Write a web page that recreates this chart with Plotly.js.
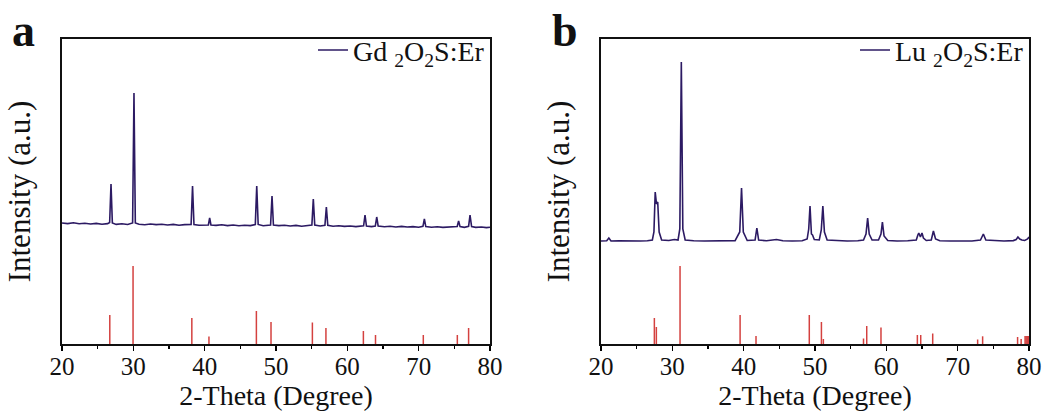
<!DOCTYPE html>
<html><head><meta charset="utf-8">
<script src="https://cdn.plot.ly/plotly-3.0.1.min.js"></script>
<style>html,body{margin:0;padding:0;background:#fff}#chart{width:1049px;height:412px}</style>
</head><body><div id="chart"></div>
<script>
// Panel a: Gd2O2S:Er measured pattern (2-theta, intensity a.u.)
const aTheta = [20,20.8,21.6,22.4,23.2,24.0,24.8,25.6,26.4,26.68,26.87,27.06,27.6,28.4,29.2,29.9,30.09,30.28,30.8,31.6,32.4,33.2,34.0,34.8,35.6,36.4,37.2,38.1,38.3,38.5,39.2,40.0,40.52,40.7,40.88,41.6,42.4,43.2,44.0,44.8,45.6,46.4,47.1,47.3,47.5,48.2,49.24,49.44,49.64,50.4,51.2,52.0,52.8,53.6,54.4,55.03,55.23,55.43,56.2,56.86,57.06,57.26,58.0,58.8,59.6,60.4,61.2,62.28,62.48,62.68,63.4,63.92,64.12,64.32,65.2,66.0,66.8,67.6,68.4,69.2,70.0,70.6,70.8,71.0,71.8,72.6,73.4,74.2,75.0,75.4,75.6,75.8,76.4,77.0,77.2,77.42,78.0,78.8,79.5,80];
const aIntensity = [121,120.4,121.3,120.2,120.8,120,120.6,119.8,120.4,121.5,160,121,119.6,120.2,119.5,121,251,121,119.8,119.2,120,119.4,119.8,119,119.6,118.8,119.4,119.5,158,119.5,118.8,119.2,119,126,119,118.6,119.2,118.4,119,118.2,118.8,118.4,119.5,158,119.5,118.2,119,148,119,118.4,118.8,118,118.6,117.8,118.4,119,145,119,118,118.8,137,118.6,117.8,118.2,117.6,118,117.4,118.2,129,118,117.4,118,127,118,117.2,117.8,117,117.6,117,117.4,116.8,117.6,125,117.4,116.8,117.2,116.6,117,116.8,117.5,123,117.4,116.6,117.6,129,117.4,116.6,117,116.4,116.8];
// Panel a: reference lines
const aRefTheta = [26.7,29.96,38.2,40.6,47.25,49.3,55.1,57.0,62.25,63.95,70.65,75.42,77.0];
const aRefIntensity = [29,78,26,7.5,33,22,21.5,16,13,9,9,9,16];

// Panel b: Lu2O2S:Er measured pattern
const bTheta = [20,20.8,21.1,21.4,22.5,23.5,24.5,25.5,26.5,27.2,27.42,27.6,27.78,27.95,28.15,28.5,29.5,30.3,30.8,31.05,31.26,31.47,31.8,33,34.5,36,37.5,38.8,39.45,39.7,39.95,40.5,41.6,41.85,42.1,43.2,44.6,45.5,46.8,48.2,48.9,49.12,49.3,49.5,49.65,49.9,50.6,50.88,51.1,51.32,51.7,53,54.5,56,56.8,57.15,57.38,57.6,58.0,58.9,59.25,59.45,59.68,60.2,61.5,63,64.2,64.42,64.55,64.78,65.0,65.2,65.6,66.3,66.6,66.9,67.5,69,70.5,72,73.2,73.6,73.95,75,76.5,77.8,78.2,78.45,78.7,79.0,79.4,79.8,80];
const bIntensity = [103,103.2,106,103,103.3,103,103.2,103,103.3,104,112,152,140,142,112,104,103.5,104.5,104,115,282,115,104,103.2,103,103.3,103,103.4,112,156,112,103.5,104,116,104,103.2,104.5,103.2,103,103.3,105,115,138,110,109,104.5,104,114,138,112,104,103.2,103,103.2,104,110,126,110,104,104,110,122,108,103.5,103,103.2,104,109,111,107,111,106,103.5,104,113,105,103.2,103,103.2,103,104,110,104,103.3,103,103.4,104.5,107,105,104,103.5,105,107];
// Panel b: reference lines
const bRefTheta = [27.48,27.76,31.08,39.5,41.73,49.2,50.9,51.17,56.8,57.25,59.25,64.35,64.82,66.5,72.8,73.5,78.4,78.9,79.45,79.6,79.75,79.9];
const bRefIntensity = [26,17,78,29,8,29,22,5,5.5,18,16.5,9,9,10.5,4.5,7.7,7,5,8,8,8,8];

const tickVals = [20,30,40,50,60,70,80];
const seriesNames = ['Gd <sub>2</sub>O<sub>2</sub>S:Er','Lu <sub>2</sub>O<sub>2</sub>S:Er'];

function sticks(xs, ys){
  const x=[], y=[];
  xs.forEach((v,i)=>{ x.push(v,v,null); y.push(0,ys[i],null); });
  return {x,y};
}
const FONT = 'Liberation Serif, serif';
const expColor = '#2c1a63';
const refColor = '#d4413f';
const sa = sticks(aRefTheta, aRefIntensity);
const sb = sticks(bRefTheta, bRefIntensity);

const traces = [
  {x:aTheta, y:aIntensity, type:'scatter', mode:'lines', name:seriesNames[0], line:{color:expColor,width:1.6}, xaxis:'x', yaxis:'y', legend:'legend'},
  {x:sa.x, y:sa.y, type:'scatter', mode:'lines', showlegend:false, line:{color:refColor,width:1.5}, xaxis:'x', yaxis:'y'},
  {x:bTheta, y:bIntensity, type:'scatter', mode:'lines', name:seriesNames[1], line:{color:expColor,width:1.6}, xaxis:'x2', yaxis:'y2', legend:'legend2'},
  {x:sb.x, y:sb.y, type:'scatter', mode:'lines', showlegend:false, line:{color:refColor,width:1.5}, xaxis:'x2', yaxis:'y2'}
];

function xax(domain, anchor){
  return {domain, anchor, range:[20,80], tickvals:tickVals, ticks:'outside', ticklen:5, tickwidth:1.5, tickcolor:'#000',
    ticklabelstandoff:-6,
    minor:{dtick:5, tick0:20, ticks:'outside', ticklen:3, tickwidth:1.2, tickcolor:'#000'},
    showline:true, linewidth:1.8, linecolor:'#111', mirror:true, showgrid:false, zeroline:false,
    tickfont:{family:FONT, size:25, color:'#111'},
    title:{text:'2-Theta (Degree)', font:{family:FONT, size:28, color:'#111'}, standoff:5}, automargin:false};
}
function yax(anchor){
  return {domain:[0,1], anchor, range:[0,305], showticklabels:false, ticks:'', showline:true, linewidth:1.8, linecolor:'#111', mirror:true,
    showgrid:false, zeroline:false, fixedrange:true,
    title:{text:'Intensity (a.u.)', font:{family:FONT, size:31, color:'#111'}, standoff:20}, automargin:false};
}
const legendBase = {y:1.045, yanchor:'top', xanchor:'right', bgcolor:'rgba(0,0,0,0)', borderwidth:0,
  font:{family:FONT, size:28, color:'#111'}};

const layout = {
  width:1049, height:412, margin:{l:0,r:0,t:39,b:68}, paper_bgcolor:'#fff', plot_bgcolor:'#fff',
  showlegend:true,
  xaxis: xax([62/1049, 490/1049], 'y'),
  yaxis: yax('x'),
  xaxis2: xax([601/1049, 1029/1049], 'y2'),
  yaxis2: yax('x2'),
  legend: Object.assign({x:490/1049}, legendBase),
  legend2: Object.assign({x:1029/1049}, legendBase),
  annotations:[
    {text:'a', xref:'paper', yref:'paper', x:10/1049, y:(344-58)/305, xanchor:'left', yanchor:'bottom', showarrow:false,
      font:{family:FONT, size:46, color:'#111', weight:'bold'}},
    {text:'b', xref:'paper', yref:'paper', x:550/1049, y:(344-58)/305, xanchor:'left', yanchor:'bottom', showarrow:false,
      font:{family:FONT, size:46, color:'#111', weight:'bold'}}
  ]
};
Plotly.newPlot('chart', traces, layout, {displayModeBar:false, staticPlot:true});
</script></body></html>
